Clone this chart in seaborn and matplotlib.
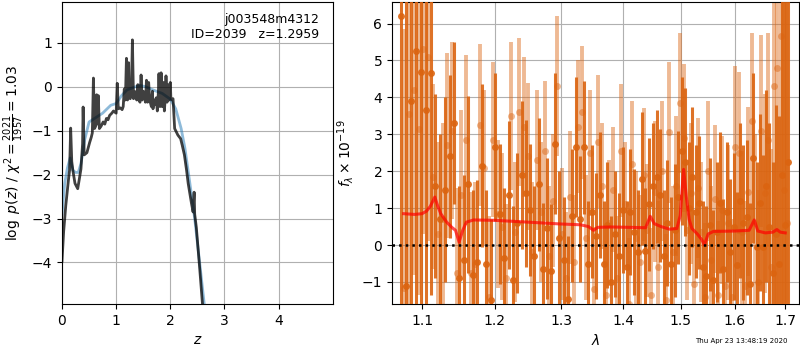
import numpy as np
import pandas as pd
import seaborn as sns
import matplotlib
matplotlib.use("Agg")
import matplotlib.pyplot as plt
from matplotlib.ticker import NullLocator, NullFormatter, FixedLocator, FixedFormatter

# ---- p(z) panel ----
z_chi = [0.00, 0.03, 0.07, 0.12, 0.14, 0.16, 0.18, 0.20, 0.24, 0.29, 0.32, 0.35, 0.38, 0.39, 0.41,
         0.46, 0.51, 0.54, 0.56, 0.58, 0.60, 0.62, 0.64, 0.65, 0.67, 0.69, 0.72, 0.76, 0.79, 0.82,
         0.85, 0.88, 0.92, 0.95, 1.00, 1.02, 1.04, 1.08, 1.11, 1.13, 1.15, 1.17, 1.19, 1.21, 1.23,
         1.24, 1.26, 1.28, 1.30, 1.32, 1.34, 1.36, 1.38, 1.40, 1.42, 1.44, 1.46, 1.48, 1.50, 1.52,
         1.54, 1.56, 1.58, 1.60, 1.62, 1.64, 1.65, 1.67, 1.68, 1.70, 1.72, 1.74, 1.76, 1.78, 1.79,
         1.81, 1.83, 1.85, 1.87, 1.89, 1.91, 1.92, 1.94, 1.96, 1.98, 2.00, 2.01, 2.03, 2.05, 2.08,
         2.14, 2.19, 2.22, 2.26, 2.30, 2.33, 2.39, 2.42, 2.44, 2.45, 2.48, 2.54, 2.61]
logp_chi = [-3.97, -3.30, -2.70, -2.11, -1.90, -0.94, -1.70, -1.90, -2.20, -2.32, -2.10, -1.87, -1.30, -0.46, -1.55,
            -1.50, -1.27, -1.15, -1.05, 0.20, -0.95, -0.90, -0.18, -0.85, -0.20, -0.95, -0.90, -0.80, -0.85, -0.72,
            -0.75, -0.65, -0.60, -0.55, -0.60, 0.08, -0.50, -0.48, -0.52, -0.45, -0.05, -0.30, 0.65, -0.30, 0.55,
            -0.25, -0.27, -0.20, 1.07, -0.27, -0.10, -0.25, -0.30, 0.05, -0.30, -0.35, 0.27, -0.30, -0.10, -0.20,
            -0.35, 0.15, -0.35, 0.10, -0.30, -0.40, -0.45, -0.10, -0.50, -0.30, -0.40, -0.25, -0.55, -0.10, 0.30,
            -0.45, 0.32, -0.45, 0.10, -0.55, -0.20, 0.25, -0.35, 0.05, -0.30, 0.10, -0.25, -0.30, -0.27, -0.95,
            -1.10, -1.18, -1.33, -1.55, -1.90, -2.20, -2.65, -2.85, -2.40, -2.90, -3.20, -4.10, -5.20]
z_smooth = [0.00, 0.05, 0.10, 0.15, 0.20, 0.25, 0.30, 0.35, 0.42, 0.50, 0.60, 0.75, 0.90, 1.00,
            1.10, 1.20, 1.35, 1.45, 1.55, 1.70, 1.85, 2.00, 2.10, 2.20, 2.27, 2.35, 2.45, 2.55, 2.64]
logp_smooth = [-2.90, -2.20, -1.85, -1.62, -1.90, -1.95, -1.95, -1.75, -1.20, -0.80, -0.72, -0.60, -0.42, -0.38,
               -0.20, -0.07, 0.00, 0.03, 0.00, -0.08, -0.15, -0.28, -0.50, -0.95, -1.40, -2.10, -3.00, -4.10, -5.10]

# ---- spectrum panel ----
wave_a = [1.0730, 1.0794, 1.0858, 1.0922, 1.0986, 1.1050, 1.1114, 1.1178, 1.1242, 1.1306,
          1.1370, 1.1434, 1.1498, 1.1562, 1.1626, 1.1690, 1.1754, 1.1818, 1.1882, 1.1946,
          1.2010, 1.2074, 1.2138, 1.2202, 1.2266, 1.2330, 1.2394, 1.2458, 1.2522, 1.2586,
          1.2650, 1.2714, 1.2778, 1.2842, 1.2906, 1.2970, 1.3034, 1.3098, 1.3162, 1.3226,
          1.3290, 1.3354, 1.3418, 1.3482, 1.3546, 1.3610, 1.3674, 1.3738, 1.3802, 1.3866,
          1.3930, 1.3994, 1.4058, 1.4122, 1.4186, 1.4250, 1.4314, 1.4378, 1.4442, 1.4506,
          1.4570, 1.4634, 1.4698, 1.4762, 1.4826, 1.4890, 1.4954, 1.5018, 1.5082, 1.5146,
          1.5210, 1.5274, 1.5338, 1.5402, 1.5466, 1.5530, 1.5594, 1.5658, 1.5722, 1.5786,
          1.5850, 1.5914, 1.5978, 1.6042, 1.6106, 1.6170, 1.6234, 1.6298, 1.6362, 1.6426,
          1.6490, 1.6554, 1.6618, 1.6682, 1.6746, 1.6810, 1.6874, 1.6938, 1.7002, 1.7066]
flux_a = [6.20, -1.10, 3.90, 5.25, 4.70, 3.65, 4.65, 1.60, 0.70, 1.50,
          2.40, 3.30, -0.90, -0.40, 1.65, -0.80, -0.45, 2.15, -0.50, -1.50,
          2.65, 0.85, -0.35, 1.35, -0.95, 0.60, 1.90, 1.40, 0.95, -0.30,
          1.65, -0.65, 0.45, -0.70, 2.75, 0.20, -0.40, -1.45, 0.80, 2.65,
          0.70, 2.65, -0.50, 0.90, 0.25, 1.35, -0.50, 0.55, -1.00, 0.30,
          -0.30, 0.95, -0.60, 0.90, 0.35, -0.20, 1.80, -0.15, 1.10, 1.60,
          1.85, 1.35, -0.30, 0.60, -0.50, 0.40, 1.30, 2.55, 2.25, 1.00,
          1.85, 0.90, 1.15, -0.60, -0.85, 0.55, -0.95, 0.35, 1.15, -0.65,
          0.90, -0.20, 0.50, -0.55, 1.20, 0.60, 0.75, -1.05, 2.35, -0.05,
          1.15, -0.05, 1.60, 0.50, -0.75, 0.30, -0.50, 1.90, 0.55, 2.25]
err_a = [9.0, 8.0, 8.0, 7.5, 7.0, 6.5, 6.0, 2.5, 2.3, 2.5,
         2.2, 2.2, 2.5, 2.3, 2.4, 2.3, 2.2, 2.2, 2.0, 2.2,
         2.0, 1.9, 1.9, 2.0, 2.0, 1.9, 2.0, 2.0, 1.8, 1.9,
         1.8, 1.8, 1.9, 1.8, 1.9, 1.8, 1.7, 1.7, 1.8, 1.9,
         1.7, 1.8, 1.7, 1.8, 1.7, 1.7, 1.7, 1.7, 1.8, 1.7,
         1.7, 1.7, 1.8, 1.7, 1.7, 1.7, 1.8, 1.7, 1.8, 1.7,
         1.8, 1.8, 1.8, 1.7, 1.8, 1.8, 1.8, 2.0, 2.0, 1.8,
         1.9, 1.8, 1.8, 1.8, 1.9, 1.8, 1.9, 1.9, 1.9, 1.9,
         1.9, 2.0, 2.0, 2.0, 2.1, 2.1, 2.1, 2.2, 2.3, 2.3,
         2.4, 2.5, 2.6, 2.8, 3.0, 3.5, 4.0, 8.0, 9.0, 9.0]

wave_b = [1.0762, 1.0826, 1.0890, 1.0954, 1.1018, 1.1082, 1.1146, 1.1210, 1.1274, 1.1338,
          1.1402, 1.1466, 1.1530, 1.1594, 1.1658, 1.1722, 1.1786, 1.1850, 1.1914, 1.1978,
          1.2042, 1.2106, 1.2170, 1.2234, 1.2298, 1.2362, 1.2426, 1.2490, 1.2554, 1.2618,
          1.2682, 1.2746, 1.2810, 1.2874, 1.2938, 1.3002, 1.3066, 1.3130, 1.3194, 1.3258,
          1.3322, 1.3386, 1.3450, 1.3514, 1.3578, 1.3642, 1.3706, 1.3770, 1.3834, 1.3898,
          1.3962, 1.4026, 1.4090, 1.4154, 1.4218, 1.4282, 1.4346, 1.4410, 1.4474, 1.4538,
          1.4602, 1.4666, 1.4730, 1.4794, 1.4858, 1.4922, 1.4986, 1.5050, 1.5114, 1.5178,
          1.5242, 1.5306, 1.5370, 1.5434, 1.5498, 1.5562, 1.5626, 1.5690, 1.5754, 1.5818,
          1.5882, 1.5946, 1.6010, 1.6074, 1.6138, 1.6202, 1.6266, 1.6330, 1.6394, 1.6458,
          1.6522, 1.6586, 1.6650, 1.6714, 1.6778, 1.6842, 1.6906, 1.6970, 1.7034]
flux_b = [-1.15, 3.55, 4.20, 3.15, 5.30, 5.10, 1.85, 0.30, 0.70, 2.70,
          3.10, -0.75, 1.35, 2.85, -0.75, -0.50, 3.25, 2.10, -1.40, 2.85,
          0.85, 0.50, -0.90, 3.50, 0.35, 3.60, 3.20, 2.40, -0.20, 2.30,
          0.90, 2.55, -0.30, 1.20, 4.30, 0.30, -0.90, 1.30, -0.45, 3.20,
          3.60, 0.20, 2.50, -1.20, 2.80, 1.60, -1.35, 0.60, 1.50, -0.90,
          2.55, 1.10, -1.60, 2.20, 0.20, -0.45, 1.90, 0.40, -1.35, 1.45,
          -0.60, 2.00, -1.50, 3.05, -0.20, 1.60, 3.85, 2.90, 0.40, 1.40,
          -1.05, 1.55, 0.35, -1.40, 2.00, -0.40, 1.25, -1.35, 0.95, -1.10,
          0.60, -1.40, 2.65, 2.50, 0.35, -1.10, 1.45, 3.35, 0.60, -1.00,
          3.10, 1.40, 2.85, -0.60, 4.30, 4.80, 5.65, 1.50, 0.60]
err_b = [7.0, 6.0, 5.0, 4.5, 5.0, 5.0, 2.5, 2.5, 2.6, 2.5,
         2.4, 2.3, 2.3, 2.3, 2.2, 2.2, 2.2, 2.1, 2.2, 2.1,
         2.0, 2.0, 2.0, 2.0, 1.9, 2.0, 1.9, 2.0, 1.9, 1.9,
         1.9, 1.9, 1.9, 1.8, 1.9, 1.8, 1.8, 1.8, 1.8, 1.8,
         1.8, 1.7, 1.7, 1.7, 1.8, 1.7, 1.8, 1.7, 1.7, 1.7,
         1.8, 1.7, 1.8, 1.7, 1.8, 1.8, 1.8, 1.8, 1.8, 1.9,
         1.8, 1.9, 1.8, 1.9, 1.8, 1.9, 1.9, 2.0, 1.9, 1.9,
         2.0, 1.9, 1.9, 2.0, 1.9, 2.0, 2.0, 2.0, 2.0, 2.1,
         2.1, 2.1, 2.2, 2.2, 2.2, 2.3, 2.3, 2.4, 2.4, 2.5,
         2.6, 2.7, 2.9, 3.2, 6.0, 7.0, 8.0, 9.0, 9.0]

model_wave = [1.076, 1.090, 1.100, 1.106, 1.111, 1.117, 1.121, 1.125, 1.133, 1.140, 1.145, 1.150, 1.155,
              1.160, 1.170, 1.200, 1.250, 1.300, 1.330, 1.343, 1.351, 1.358, 1.380, 1.410, 1.438, 1.446,
              1.453, 1.465, 1.480, 1.493, 1.499, 1.505, 1.510, 1.515, 1.520, 1.530, 1.538, 1.543, 1.550,
              1.560, 1.600, 1.628, 1.638, 1.645, 1.660, 1.675, 1.683, 1.690, 1.700]
model_flux = [0.85, 0.83, 0.85, 0.92, 1.05, 1.30, 1.05, 0.85, 0.62, 0.48, 0.40, 0.08, 0.40,
              0.62, 0.68, 0.67, 0.62, 0.57, 0.55, 0.50, 0.40, 0.48, 0.49, 0.48, 0.47, 0.78,
              0.58, 0.50, 0.43, 0.45, 0.80, 2.05, 1.30, 0.70, 0.45, 0.30, 0.15, 0.00, 0.30,
              0.37, 0.38, 0.40, 0.68, 0.38, 0.33, 0.35, 0.42, 0.35, 0.33]

orange = "#db6410"

fig = plt.figure(figsize=(8, 3.5), dpi=100)
ax1 = fig.add_axes([0.0775, 0.131, 0.3385, 0.863])
ax2 = fig.add_axes([0.490, 0.131, 0.509, 0.863])

# left: log p(z)
sns.lineplot(x=z_smooth, y=logp_smooth, ax=ax1, color="#1f77b4", alpha=0.5, lw=2, sort=False, estimator=None)
sns.lineplot(x=z_chi, y=logp_chi, ax=ax1, color="k", alpha=0.75, lw=2, sort=False, estimator=None)
ax1.set_xlim(0, 5.0)
ax1.set_ylim(-4.95, 1.93)
ax1.set_xticks([0, 1, 2, 3, 4])
ax1.set_yticks([-4, -3, -2, -1, 0, 1])
ax1.grid(True)
ax1.set_xlabel(r"$z$")
ax1.set_ylabel(r"$\log\ p(z)$" + " / " + r"$\chi^2=\frac{2021}{1957}=1.03$")
ax1.text(0.95, 0.965, "j003548m4312\nID=2039   z=1.2959", transform=ax1.transAxes,
         ha="right", va="top", fontsize=9)

# right: spectrum
ax2.errorbar(wave_b, flux_b, yerr=err_b, fmt="o", color=orange, alpha=0.45, ms=5,
             elinewidth=2.8, mec="none", zorder=2)
ax2.errorbar(wave_a, flux_a, yerr=err_a, fmt="o", color=orange, alpha=0.9, ms=5,
             elinewidth=2.2, mec="none", zorder=3)
sns.lineplot(x=model_wave, y=model_flux, ax=ax2, color="r", alpha=0.7, lw=2.2, sort=False,
             estimator=None, zorder=5)
ax2.axhline(0, color="k", ls=":", lw=1.8, zorder=6)
ax2.set_xscale("log")
ax2.set_xlim(1.0611, 1.7287)
ax2.set_ylim(-1.6, 6.58)
ticks = [1.1, 1.2, 1.3, 1.4, 1.5, 1.6, 1.7]
ax2.xaxis.set_major_locator(FixedLocator(ticks))
ax2.xaxis.set_major_formatter(FixedFormatter([f"{t:.1f}" for t in ticks]))
ax2.xaxis.set_minor_locator(NullLocator())
ax2.xaxis.set_minor_formatter(NullFormatter())
ax2.set_yticks([-1, 0, 1, 2, 3, 4, 5, 6])
ax2.grid(True)
ax2.set_xlabel(r"$\lambda$")
ax2.set_ylabel(r"$f_\lambda \times 10^{-19}$")

fig.text(0.984, 0.018, "Thu Apr 23 13:48:19 2020", ha="right", va="bottom", fontsize=5)

fig.savefig("out.png", dpi=100)
